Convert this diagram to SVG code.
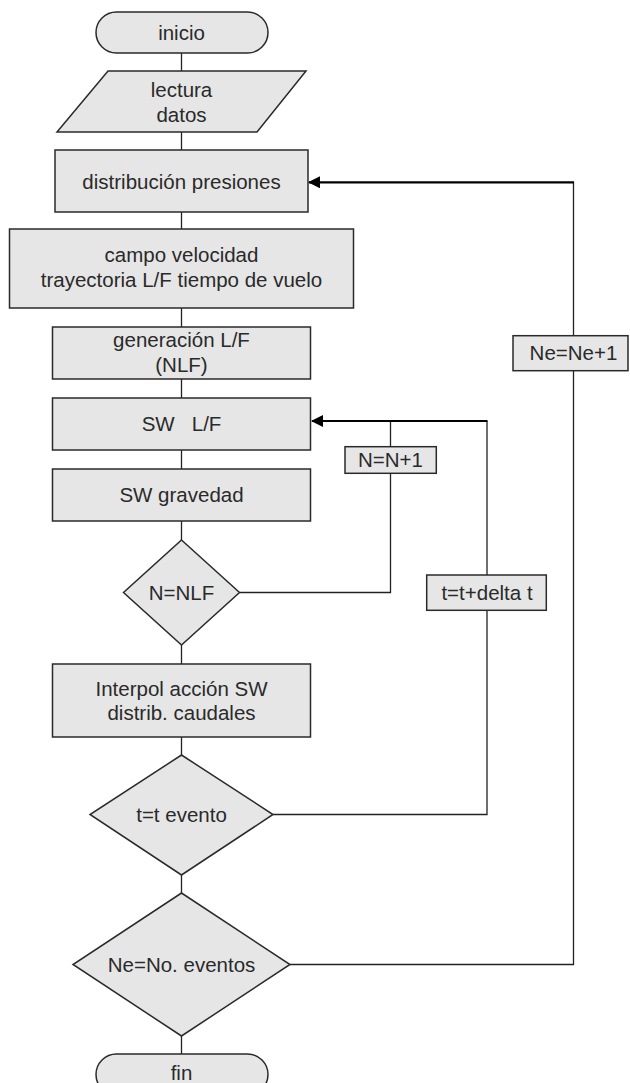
<svg xmlns="http://www.w3.org/2000/svg" width="630" height="1083" viewBox="0 0 630 1083">
<defs>
<style>
.n{fill:#e6e6e6;stroke:#2a2a2a;stroke-width:1.5}
.t{font-family:"Liberation Sans",Arial,sans-serif;font-size:20.5px;fill:#2a2a2a;text-anchor:middle}
.c{fill:none;stroke:#222;stroke-width:1.3}
.a{fill:none;stroke:#000;stroke-width:2.2}
</style>
<marker id="ah" markerWidth="12" markerHeight="12" viewBox="0 0 12 12" refX="11" refY="6" orient="auto" markerUnits="userSpaceOnUse">
<path d="M0,0 L12,6 L0,12 Z" fill="#000"/>
</marker>
</defs>
<rect width="630" height="1083" fill="#fff"/>
<g id="connectors">
<path class="c" d="M181.5,53 V71 M181.5,132 V150 M181.5,212 V229 M181.5,308 V327 M181.5,379 V398 M181.5,450 V469 M181.5,521 V540 M181.5,645 V664 M181.5,737 V755 M181.5,875 V893 M181.5,1036 V1054"/>
<path class="c" d="M239.5,592.5 H390.5 V473.3 M390.5,446.7 V421"/>
<path class="c" d="M273,814.5 H487 V610.3 M487,575 V421"/>
<path class="c" d="M290,964.5 H573.5 V370.7 M573.5,335.7 V182.3"/>
<path class="a" d="M574,182.3 H309" marker-end="url(#ah)"/>
<path class="a" d="M487.5,421 H312" marker-end="url(#ah)"/>
</g>
<g id="inicio">
<rect class="n" x="96" y="12" width="172" height="41" rx="20.5"/>
<text class="t" x="181.5" y="40">inicio</text>
</g>
<g id="lectura">
<polygon class="n" points="108,71 306,71 257,132 57,132"/>
<text class="t" x="181.5" y="97">lectura</text>
<text class="t" x="181.5" y="122">datos</text>
</g>
<g id="distribucion">
<rect class="n" x="55" y="150" width="253" height="62"/>
<text class="t" x="181.5" y="189">distribución presiones</text>
</g>
<g id="campo">
<rect class="n" x="9.5" y="229" width="344" height="79"/>
<text class="t" x="181.5" y="262">campo velocidad</text>
<text class="t" x="181.5" y="287">trayectoria L/F tiempo de vuelo</text>
</g>
<g id="generacion">
<rect class="n" x="52.5" y="327" width="258" height="52"/>
<text class="t" x="181.5" y="347">generación L/F</text>
<text class="t" x="181.5" y="372">(NLF)</text>
</g>
<g id="swlf">
<rect class="n" x="52.5" y="398" width="258" height="52"/>
<text class="t" x="181.5" y="431" xml:space="preserve">SW   L/F</text>
</g>
<g id="swgravedad">
<rect class="n" x="52.5" y="469" width="258" height="52"/>
<text class="t" x="181.5" y="502">SW gravedad</text>
</g>
<g id="n_nlf">
<polygon class="n" points="181.5,540 239.5,592.5 181.5,645 123.5,592.5"/>
<text class="t" x="181.5" y="600">N=NLF</text>
</g>
<g id="nmas1">
<rect class="n" x="345" y="446.7" width="91.3" height="26.6"/>
<text class="t" x="390.5" y="467">N=N+1</text>
</g>
<g id="tdelta">
<rect class="n" x="426.7" y="575" width="119.6" height="35.3"/>
<text class="t" x="487" y="600">t=t+delta t</text>
</g>
<g id="nemas1">
<rect class="n" x="513" y="335.7" width="115" height="35"/>
<text class="t" x="573.5" y="360">Ne=Ne+1</text>
</g>
<g id="interpol">
<rect class="n" x="52.5" y="664" width="258" height="73"/>
<text class="t" x="181.5" y="696">Interpol acción SW</text>
<text class="t" x="181.5" y="720">distrib. caudales</text>
</g>
<g id="tevento">
<polygon class="n" points="181.5,755 273,814.5 181.5,875 90,814.5"/>
<text class="t" x="181.5" y="822">t=t evento</text>
</g>
<g id="neventos">
<polygon class="n" points="181.5,893 290,964.5 181.5,1036 73,964.5"/>
<text class="t" x="181.5" y="972">Ne=No. eventos</text>
</g>
<g id="fin">
<rect class="n" x="96" y="1054" width="172" height="41" rx="20.5"/>
<text class="t" x="181.5" y="1080">fin</text>
</g>
</svg>
